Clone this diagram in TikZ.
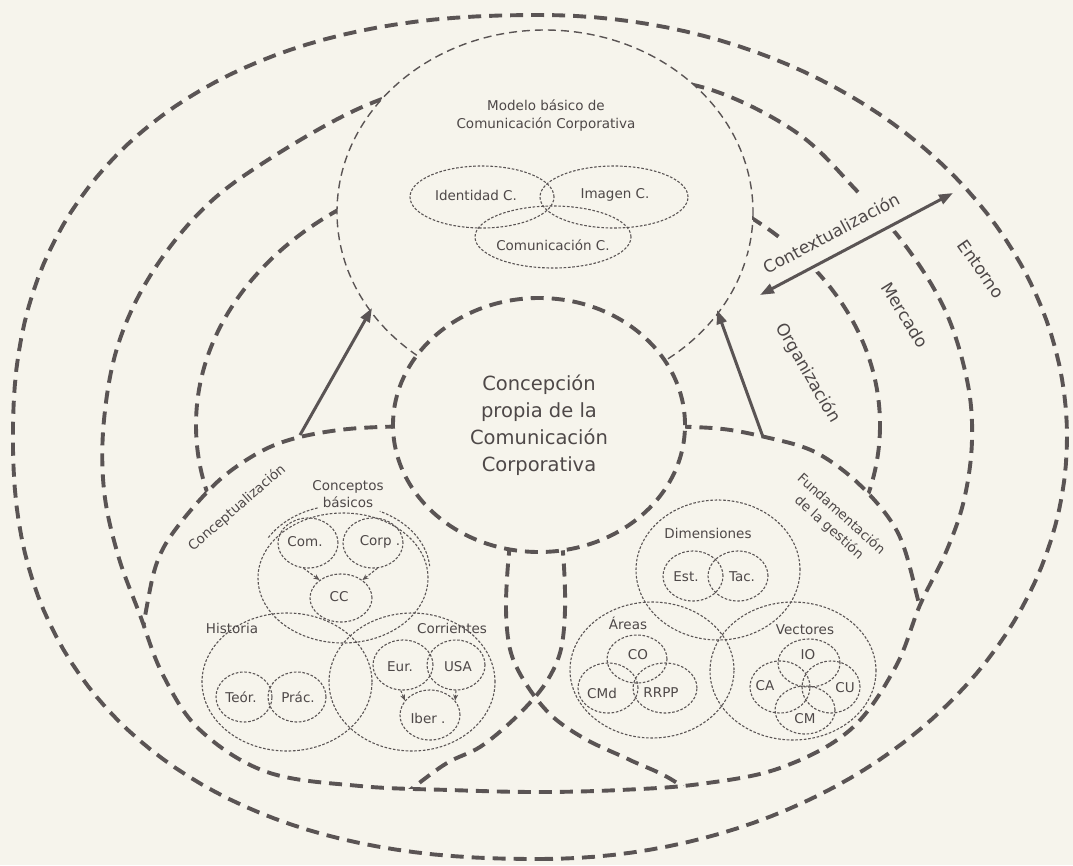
\documentclass[tikz,border=0pt]{standalone}
\usepackage{fontspec}
\setmainfont{DejaVu Sans}
\usetikzlibrary{arrows.meta,shapes.geometric}
\definecolor{paper}{HTML}{F6F4EC}
\definecolor{ink}{HTML}{5A5454}
\definecolor{inktext}{HTML}{4E4848}

% outline of the Mercado ring
\newcommand\mercadoline{plot[smooth cycle,tension=0.6] coordinates {
  (537,70) (650,78) (723,94) (800,135) (856,190) (905,245) (945,310) (967,380)
  (972,440) (964,500) (946,552) (920,605) (895,668) (850,730) (780,768) (700,784)
  (620,790) (537,792) (450,790) (360,786) (267,772) (200,730) (163,675) (140,615)
  (118,555) (104,490) (104,420) (118,345) (150,276) (200,212) (260,165) (360,108) (450,80)}}
% outlines of the two lower lobes (their lower parts fall outside Mercado and are clipped)
\newcommand\leftlobe{plot[smooth cycle,tension=0.55] coordinates {
  (360,428) (440,428) (510,445) (555,495) (563,553) (565,610) (560,653) (543,687)
  (513,720) (480,747) (447,763) (410,790) (340,845) (230,835) (160,770) (138,690)
  (148,600) (165,545) (213,486) (258,453) (300,437)}}
\newcommand\rightlobe{plot[smooth cycle,tension=0.55] coordinates {
  (712,428) (632,428) (562,445) (517,495) (509,553) (506,610) (511,653) (528,687)
  (553,717) (587,740) (630,760) (680,785) (750,845) (850,835) (925,760) (935,680)
  (918,600) (898,533) (860,485) (815,452) (765,437)}}

\begin{document}
\begin{tikzpicture}[x=1pt,y=-1pt,
  heavydash/.style={draw=ink,line width=3.9pt,dash pattern=on 13pt off 8pt},
  lightdash/.style={draw=ink,line width=1.4pt,dash pattern=on 8pt off 5pt},
  finedash/.style={draw=ink,line width=1.1pt,dash pattern=on 2.6pt off 1.7pt},
  smallfont/.style={font=\fontsize{13.5}{17.5}\selectfont},
  bubble/.style={finedash,ellipse,inner sep=0pt},
  caption/.style={text=inktext,smallfont,inner sep=1pt,align=center},
  ringlabel/.style={text=inktext,font=\fontsize{17}{20}\selectfont,inner sep=1pt},
  flow/.style={draw=ink,line width=3pt,-{Triangle[length=14pt,width=10pt]}},
  feed/.style={finedash,-{Stealth[length=6pt,width=5pt]}}
]
\fill[paper] (0,0) rectangle (1073,865);
\useasboundingbox (0,0) rectangle (1073,865);

% Entorno ring: elliptic on the right, fuller on the left
\draw[heavydash]
  plot[domain=-90:90,samples=91] ({540+527*cos(\x)},{437-422*sin(\x)})
  -- plot[domain=91:269,samples=90]
     ({540-527*pow(abs(cos(\x)),0.87)},{437-422*sin(\x)*pow(abs(sin(\x)),-0.13)})
  -- cycle;
% Organizacion ring
\draw[heavydash] (538,425) ellipse [x radius=342, y radius=265];
% the two lower lobes, kept inside the Mercado ring
\begin{scope}
  \clip \mercadoline;
  \fill[paper] \leftlobe;
  \fill[paper] \rightlobe;
  \draw[heavydash] \leftlobe;
  \draw[heavydash] \rightlobe;
\end{scope}
% Mercado ring
\draw[heavydash] \mercadoline;
% upper lobe: basic model
\path[lightdash,fill=paper] (545,212) ellipse [x radius=208, y radius=182];
% core
\node[heavydash,fill=paper,ellipse,minimum width=292pt,minimum height=254pt,inner sep=0pt,
      text=inktext,align=center,font=\fontsize{19.5}{27}\selectfont] (core) at (539,425)
  {Concepción\\propia de la\\Comunicación\\Corporativa};

% contextualisation arrow with its label
\coordinate (cxa) at (760,295);
\coordinate (cxb) at (953,193);
\draw[paper,line width=12pt] (cxa) -- (cxb);
\node[ringlabel,fill=paper,inner sep=12pt,rotate=28] (ctx) at (831,233) {Contextualización};
\draw[flow,{Triangle[length=14pt,width=10pt]}-{Triangle[length=14pt,width=10pt]}] (cxa) -- (cxb);

% arrows from the lower lobes to the basic model
\coordinate (lt) at (300,435);
\coordinate (lh) at (372,308);
\coordinate (rt) at (763,437);
\coordinate (rh) at (717,310);
\draw[flow] (lt) -- (lh);
\draw[flow] (rt) -- (rh);

% ring labels
\node[ringlabel,rotate=-55] (ent) at (981,269) {Entorno};
\node[ringlabel,rotate=-58] (mer) at (905,315) {Mercado};
\node[ringlabel,rotate=-60] (org) at (808,373) {Organización};

% basic model
\node[caption,font=\fontsize{13.5}{18}\selectfont] (mtitle) at (546,116) {Modelo básico de\\Comunicación Corporativa};
\node[bubble,minimum width=144pt,minimum height=62pt] (idc) at (482,197) {};
\node[bubble,minimum width=148pt,minimum height=62pt] (imc) at (614,197) {};
\node[bubble,minimum width=156pt,minimum height=62pt] (cmc) at (553,237) {};
\node[caption] (idct) at (476,195) {Identidad C.};
\node[caption] (imct) at (615,195) {Imagen C.};
\node[caption] (cmct) at (553,245) {Comunicación C.};

% conceptualisation lobe
\node[caption,rotate=41] (cpt) at (237,508) {Conceptualización};
\node[bubble,minimum width=170pt,minimum height=130pt] (cb) at (343,578) {};
\draw[finedash] plot[domain=107:150,samples=20] ({343+87*cos(\x)},{572-67*sin(\x)});
\draw[finedash] plot[domain=5:65,samples=25] ({343+87*cos(\x)},{572-67*sin(\x)});
\node[caption] (cbt) at (348,494) {Conceptos\\básicos};
\node[bubble,minimum width=60pt,minimum height=50pt] (com) at (308,543) {};
\node[bubble,minimum width=60pt,minimum height=50pt] (corp) at (373,543) {};
\node[bubble,minimum width=62pt,minimum height=48pt] (cc) at (341,598) {};
\node[caption] (comt) at (305,542) {Com.};
\node[caption] (corpt) at (380,542) {Corp .};
\node[caption] (cct) at (339,597) {CC};
\draw[feed] (com.-100) -- (cc.140);
\draw[feed] (corp.-80) -- (cc.40);

\node[bubble,minimum width=170pt,minimum height=138pt] (hist) at (287,682) {};
\node[caption] (histt) at (232,628) {Historia};
\node[bubble,minimum width=56pt,minimum height=50pt] (teor) at (244,697) {};
\node[bubble,minimum width=58pt,minimum height=50pt] (prac) at (297,697) {};
\node[caption] (teort) at (241,697) {Teór.};
\node[caption] (pract) at (298,697) {Prác.};

\node[bubble,minimum width=166pt,minimum height=138pt] (corr) at (412,682) {};
\node[caption] (corrt) at (452,628) {Corrientes};
\node[bubble,minimum width=60pt,minimum height=50pt] (eur) at (403,665) {};
\node[bubble,minimum width=58pt,minimum height=50pt] (usa) at (456,665) {};
\node[bubble,minimum width=60pt,minimum height=50pt] (iber) at (430,715) {};
\node[caption] (eurt) at (400,667) {Eur.};
\node[caption] (usat) at (458,667) {USA};
\node[caption] (ibert) at (428,718) {Iber .};
\draw[feed] (eur.-95) -- (iber.150);
\draw[feed] (usa.-90) -- (iber.30);

% management lobe
\node[caption,rotate=-42,font=\fontsize{13.5}{18}\selectfont] (fund) at (835,521) {Fundamentación\\de la gestión};
\node[bubble,minimum width=164pt,minimum height=140pt] (dim) at (718,570) {};
\node[caption] (dimt) at (708,533) {Dimensiones};
\node[bubble,minimum width=60pt,minimum height=50pt] (est) at (693,576) {};
\node[bubble,minimum width=60pt,minimum height=50pt] (tac) at (738,576) {};
\node[caption] (estt) at (686,577) {Est.};
\node[caption] (tact) at (742,577) {Tac.};

\node[bubble,minimum width=164pt,minimum height=136pt] (areas) at (652,670) {};
\node[caption] (areast) at (628,623) {Áreas};
\node[bubble,minimum width=60pt,minimum height=48pt] (co) at (637,659) {};
\node[bubble,minimum width=60pt,minimum height=50pt] (cmd) at (608,688) {};
\node[bubble,minimum width=64pt,minimum height=50pt] (rrpp) at (665,688) {};
\node[caption] (cot) at (638,655) {CO};
\node[caption] (cmdt) at (602,693) {CMd};
\node[caption] (rrppt) at (661,693) {RRPP};

\node[bubble,minimum width=166pt,minimum height=138pt] (vec) at (793,671) {};
\node[caption] (vect) at (805,630) {Vectores};
\node[bubble,minimum width=62pt,minimum height=48pt] (io) at (809,663) {};
\node[bubble,minimum width=60pt,minimum height=52pt] (ca) at (780,687) {};
\node[bubble,minimum width=58pt,minimum height=52pt] (cu) at (831,687) {};
\node[bubble,minimum width=60pt,minimum height=48pt] (cm) at (805,710) {};
\node[caption] (iot) at (808,655) {IO};
\node[caption] (cat) at (765,686) {CA};
\node[caption] (cut) at (845,688) {CU};
\node[caption] (cmt) at (805,719) {CM};
\end{tikzpicture}
\end{document}
